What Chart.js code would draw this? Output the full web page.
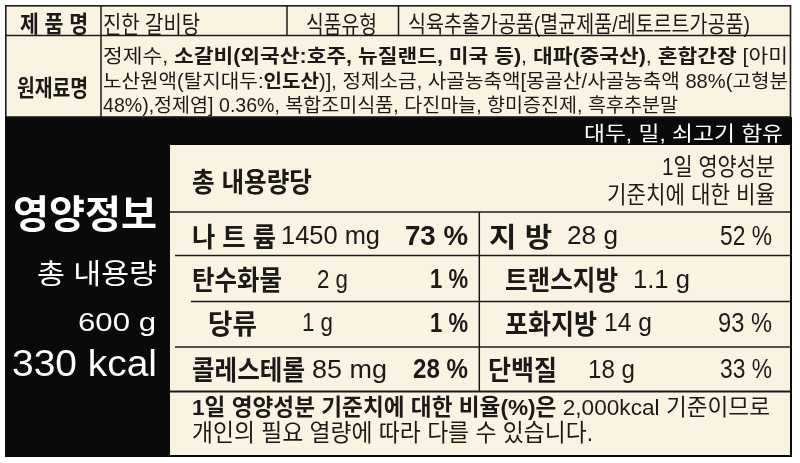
<!DOCTYPE html>
<html>
<head>
<meta charset="utf-8">
<script src="https://cdn.jsdelivr.net/npm/chart.js@4"></script>
<style>
  html, body { margin: 0; padding: 0; background: #ffffff; }
  #c { display: block; }
</style>
</head>
<body>
<canvas id="c" width="800" height="463"></canvas>
<script>
// ---------- data ----------
const productName = '진한 갈비탕';
const foodType = '식육추출가공품(멸균제품/레토르트가공품)';
const allergens = '대두, 밀, 쇠고기 함유';
const totalWeight = '600 g';
const totalKcal = '330 kcal';

const leftNames = ['나 트 륨', '탄수화물', '당류', '콜레스테롤'];
const leftAmounts = ['1450 mg', '2 g', '1 g', '85 mg'];
const leftPercents = ['73 %', '1 %', '1 %', '28 %'];

const rightNames = ['지 방', '트랜스지방', '포화지방', '단백질'];
const rightAmounts = ['28 g', '1.1 g', '14 g', '18 g'];
const rightPercents = ['52 %', '', '93 %', '33 %'];

const ingredientLine1 = [['n', '정제수, '], ['b', '소갈비(외국산:호주, 뉴질랜드, 미국 등)'], ['n', ', '], ['b', '대파(중국산)'], ['n', ', '], ['b', '혼합간장'], ['n', ' [아미']];
const ingredientLine2 = [['n', '노산원액(탈지대두:'], ['b', '인도산'], ['n', ')], 정제소금, 사골농축액[몽골산/사골농축액 88%(고형분']];
const ingredientLine3 = [['n', '48%),정제염] 0.36%, 복합조미식품, 다진마늘, 향미증진제, 흑후추분말']];
const footnoteLine1 = [['b', '1일 영양성분 기준치에 대한 비율(%)은'], ['n', ' 2,000kcal 기준이므로']];
const footnoteLine2 = [['n', '개인의 필요 열량에 따라 다를 수 있습니다.']];

// ---------- layout (pixel geometry, not data) ----------
const CREAM = '#fbf3e2';
const INK = '#1c1a18';
const FAM = "'Liberation Sans', 'Noto Sans CJK KR', sans-serif";
const rowY = [235.5, 279, 322.5, 369];
const leftCols = { name: [[192, 276], [192, 282], [208, 257], [192, 305]],
                   amt: [[281, 380], [317, 348], [302, 333], [312, 387]],
                   pct: [[405, 468], [430, 468], [430, 468], [413, 468]] };
const rightCols = { name: [[489, 552], [505, 618], [505, 597], [488, 557]],
                    amt: [[567, 618], [633, 690], [604, 652], [588, 635]],
                    pct: [[720, 772], [0, 0], [718, 772], [720, 772]] };

const labelPlugin = {
  id: 'nutritionLabel',
  afterDraw(chart) {
    const ctx = chart.ctx;
    const sx = chart.scales.x, sy = chart.scales.y;
    const X = v => sx.getPixelForValue(v);
    const Y = v => sy.getPixelForValue(v);

    function kRatio(weight) {
      ctx.font = weight + " 100px 'Noto Sans CJK KR'";
      const m = ctx.measureText('한');
      const r = (m.actualBoundingBoxAscent + m.actualBoundingBoxDescent) / 100;
      return (r > 0.5 && r < 1.1) ? r : 0.88;
    }
    const K = { n: kRatio('normal'), b: kRatio('bold') };

    function drawSegs(segs, x1, x2, yc, opt) {
      const size = opt.size || (opt.hk / K[opt.refW || segs[0][0]]);
      const ref = opt.ref || '한';
      const fonts = segs.map(s => (s[0] === 'b' ? 'bold ' : 'normal ') + size.toFixed(2) + 'px ' + FAM);
      let total = 0;
      const widths = segs.map((s, i) => { ctx.font = fonts[i]; const w = ctx.measureText(s[1]).width; total += w; return w; });
      ctx.font = fonts[0];
      const m = ctx.measureText(ref);
      const base = Y(yc) + (m.actualBoundingBoxAscent - m.actualBoundingBoxDescent) / 2;
      const px1 = X(x1), px2 = X(x2);
      const scale = (px2 - px1) / total;
      ctx.save();
      ctx.fillStyle = opt.color || INK;
      ctx.textAlign = 'left';
      ctx.textBaseline = 'alphabetic';
      ctx.translate(px1, base);
      ctx.scale(scale, 1);
      let cx = 0;
      segs.forEach((s, i) => { ctx.font = fonts[i]; ctx.fillText(s[1], cx, 0); cx += widths[i]; });
      ctx.restore();
    }
    function txt(text, w, x1, x2, yc, opt) { drawSegs([[w, text]], x1, x2, yc, opt); }

    function rect(x1, y1, x2, y2, color) {
      ctx.fillStyle = color;
      ctx.fillRect(X(x1), Y(y1), X(x2) - X(x1), Y(y2) - Y(y1));
    }
    function line(x1, y1, x2, y2, w) {
      ctx.save();
      ctx.strokeStyle = INK; ctx.lineWidth = w;
      ctx.beginPath(); ctx.moveTo(X(x1), Y(y1)); ctx.lineTo(X(x2), Y(y2)); ctx.stroke();
      ctx.restore();
    }

    // backgrounds
    rect(0, 0, 800, 463, '#ffffff');
    rect(5, 5, 791, 117, CREAM);
    rect(5, 117, 792, 457, '#0a0a0a');
    rect(170, 145, 790, 455, CREAM);

    // top table lines
    ctx.save(); ctx.strokeStyle = INK; ctx.lineWidth = 1.6;
    ctx.strokeRect(X(5.8), Y(5.8), X(790.5) - X(5.8), Y(117) - Y(5.8));
    ctx.restore();
    line(5, 35.5, 791, 35.5, 1.5);
    line(101, 5, 101, 117, 1.5);
    line(287, 5, 287, 35.5, 1.5);
    line(398.5, 5, 398.5, 35.5, 1.5);

    // panel lines
    line(170, 212, 790, 212, 1.6);
    line(175, 255.5, 790, 255.5, 1.4);
    line(191, 301.5, 479, 301.5, 1.4);
    line(479, 301.5, 790, 301.5, 1.4);
    line(175, 347, 790, 347, 1.4);
    line(170, 391.5, 790, 391.5, 2);
    line(479.3, 212, 479.3, 391.5, 1.5);

    // top table text
    txt('제 품 명', 'b', 20, 88, 23.5, { hk: 21 });
    txt(productName, 'n', 103, 200, 23.5, { hk: 21 });
    txt('식품유형', 'n', 306, 377, 23.5, { hk: 21 });
    txt(foodType, 'n', 408, 750, 23.5, { hk: 20 });
    txt('원재료명', 'b', 17, 88, 87, { hk: 21 });
    drawSegs(ingredientLine1, 103, 788, 55, { hk: 17.5, refW: 'n' });
    drawSegs(ingredientLine2, 103, 788, 80, { hk: 17.5, refW: 'n' });
    drawSegs(ingredientLine3, 103, 678, 104.5, { hk: 17.5, refW: 'n' });
    txt(allergens, 'n', 584, 783, 132, { hk: 18, color: '#ffffff' });

    // left black column
    txt('영양정보', 'b', 13, 157, 213, { hk: 36, color: '#ffffff' });
    txt('총 내용량', 'n', 37, 157, 273, { hk: 25, color: '#ffffff' });
    txt(totalWeight, 'n', 78, 156, 321.5, { size: 25, ref: '0', color: '#ffffff' });
    txt(totalKcal, 'n', 12, 157, 363, { size: 37, ref: '0', color: '#ffffff' });

    // panel header
    txt('총 내용량당', 'b', 192, 312, 181, { hk: 25 });
    txt('1일 영양성분', 'n', 662, 775, 166, { hk: 21 });
    txt('기준치에 대한 비율', 'n', 607, 775, 194, { hk: 21 });

    // nutrient rows
    for (let i = 0; i < 4; i++) {
      const y = rowY[i];
      txt(leftNames[i], 'b', leftCols.name[i][0], leftCols.name[i][1], y, { hk: 25 });
      txt(leftAmounts[i], 'n', leftCols.amt[i][0], leftCols.amt[i][1], y - 0.5, { size: 25, ref: '0' });
      if (leftPercents[i]) txt(leftPercents[i], 'b', leftCols.pct[i][0], leftCols.pct[i][1], y - 0.5, { size: 28, ref: '0' });
      txt(rightNames[i], 'b', rightCols.name[i][0], rightCols.name[i][1], y, { hk: 25 });
      txt(rightAmounts[i], 'n', rightCols.amt[i][0], rightCols.amt[i][1], y - 0.5, { size: 25, ref: '0' });
      if (rightPercents[i]) txt(rightPercents[i], 'n', rightCols.pct[i][0], rightCols.pct[i][1], y - 0.5, { size: 28, ref: '0' });
    }

    // footnote
    drawSegs(footnoteLine1, 192, 770, 406.5, { hk: 21, refW: 'b' });
    drawSegs(footnoteLine2, 192, 593, 432, { hk: 21, refW: 'n' });
  }
};

new Chart(document.getElementById('c').getContext('2d'), {
  type: 'scatter',
  data: { datasets: [] },
  options: {
    responsive: false,
    animation: false,
    events: [],
    layout: { padding: 0 },
    plugins: { legend: { display: false }, tooltip: { enabled: false } },
    scales: {
      x: { type: 'linear', min: 0, max: 800, display: false },
      y: { type: 'linear', min: 0, max: 463, reverse: true, display: false }
    }
  },
  plugins: [labelPlugin]
});
</script>
</body>
</html>
